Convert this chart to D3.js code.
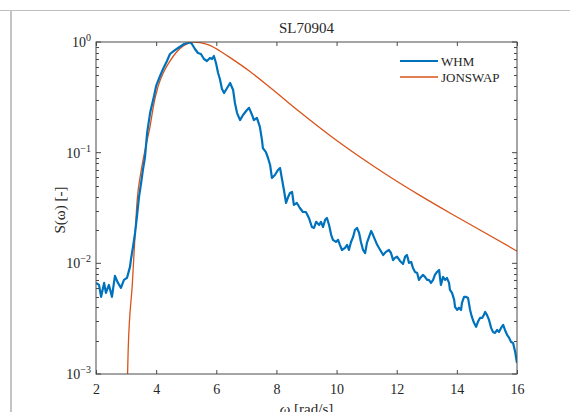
<!DOCTYPE html>
<html>
<head>
<meta charset="utf-8">
<script src="https://cdn.jsdelivr.net/npm/d3@7"></script>
<style>
  body { margin: 0; background: #fff; }
  text { font-family: "Liberation Serif", "DejaVu Serif", serif; fill: #262626; }
</style>
</head>
<body>
<div id="chart"></div>
<script>
// values
var whmOmega = [2.00, 2.10, 2.17, 2.27, 2.33, 2.43, 2.53, 2.63, 2.73, 2.83, 2.93, 3.03, 3.13, 3.16, 3.23, 3.30, 3.36, 3.43, 3.50, 3.56,
  3.63, 3.70, 3.80, 3.93, 4.00, 4.13, 4.23, 4.36, 4.46, 4.59, 4.73, 4.93, 5.06, 5.13, 5.19, 5.29, 5.39, 5.49, 5.59, 5.69,
  5.79, 5.86, 5.92, 5.99, 6.06, 6.12, 6.19, 6.26, 6.36, 6.46, 6.56, 6.62, 6.69, 6.79, 6.89, 7.02, 7.09, 7.19, 7.25, 7.35,
  7.45, 7.52, 7.55, 7.65, 7.72, 7.79, 7.85, 7.95, 8.05, 8.12, 8.19, 8.25, 8.32, 8.39, 8.45, 8.52, 8.58, 8.68, 8.78, 8.88,
  8.98, 9.08, 9.18, 9.25, 9.32, 9.42, 9.48, 9.55, 9.62, 9.68, 9.75, 9.82, 9.88, 9.98, 10.05, 10.11, 10.18, 10.28, 10.35, 10.41,
  10.48, 10.55, 10.61, 10.68, 10.75, 10.81, 10.88, 10.95, 11.01, 11.08, 11.15, 11.21, 11.28, 11.35, 11.45, 11.55, 11.64, 11.74, 11.81, 11.88,
  11.94, 12.01, 12.11, 12.21, 12.28, 12.34, 12.41, 12.48, 12.54, 12.61, 12.68, 12.74, 12.81, 12.87, 12.94, 13.01, 13.07, 13.14, 13.21, 13.27,
  13.34, 13.41, 13.44, 13.47, 13.54, 13.61, 13.67, 13.74, 13.77, 13.84, 13.91, 13.94, 14.01, 14.07, 14.14, 14.17, 14.24, 14.30, 14.37, 14.40,
  14.44, 14.50, 14.57, 14.64, 14.70, 14.77, 14.84, 14.90, 14.94, 15.00, 15.07, 15.14, 15.20, 15.27, 15.34, 15.40, 15.47, 15.54, 15.60, 15.67,
  15.74, 15.80, 15.87, 15.94, 15.97, 16.00];
var whmS = [0.00665, 0.00638, 0.00498, 0.00665, 0.00541, 0.00638, 0.00498, 0.00769, 0.00665, 0.00600, 0.00708, 0.00738, 0.00929, 0.01074, 0.01406, 0.01883, 0.02624, 0.0398, 0.0532, 0.0698,
  0.0914, 0.151, 0.229, 0.325, 0.401, 0.493, 0.570, 0.673, 0.779, 0.830, 0.883, 0.959, 0.979, 1.0, 0.959, 0.865, 0.796, 0.779, 0.702, 0.673,
  0.717, 0.702, 0.748, 0.646, 0.525, 0.463, 0.376, 0.346, 0.384, 0.426, 0.368, 0.281, 0.229, 0.197, 0.219, 0.243, 0.254, 0.219, 0.197, 0.206,
  0.171, 0.130, 0.110, 0.101, 0.0896, 0.0774, 0.0591, 0.0629, 0.0698, 0.0728, 0.0567, 0.0460, 0.0351, 0.0398, 0.0433, 0.0442, 0.0337, 0.0351, 0.0316, 0.0291,
  0.0291, 0.0257, 0.0213, 0.0209, 0.0237, 0.0222, 0.0237, 0.0213, 0.0247, 0.0257, 0.0222, 0.0181, 0.0163, 0.0156, 0.0163, 0.0147, 0.0132, 0.0138, 0.0147, 0.0132,
  0.0156, 0.0173, 0.0200, 0.0209, 0.0188, 0.0156, 0.0132, 0.0124, 0.0153, 0.0173, 0.0196, 0.0181, 0.0163, 0.0147, 0.0132, 0.0119, 0.0127, 0.0132, 0.0124, 0.0107,
  0.0112, 0.0115, 0.0105, 0.00988, 0.0115, 0.0119, 0.0101, 0.0103, 0.00909, 0.00836, 0.00818, 0.00708, 0.00754, 0.00786, 0.00754, 0.00708, 0.00708, 0.00665, 0.00708, 0.00786,
  0.00836, 0.00871, 0.00738, 0.00638, 0.00754, 0.00708, 0.00738, 0.00665, 0.00575, 0.00541, 0.00467, 0.00404, 0.00379, 0.00397, 0.00379, 0.00439, 0.00498, 0.00498, 0.00487, 0.00439,
  0.00379, 0.00328, 0.00290, 0.00267, 0.00296, 0.00321, 0.00321, 0.00342, 0.00364, 0.00342, 0.00308, 0.00261, 0.00240, 0.00235, 0.00250, 0.00240, 0.00261, 0.00278, 0.00250, 0.00226,
  0.00212, 0.00195, 0.00191, 0.00158, 0.00140, 0.00126];

var jonOmega = [3.05, 3.07, 3.21, 3.29, 3.37, 3.49, 3.66, 3.80, 3.91, 4.07, 4.24, 4.46, 4.68, 4.90, 5.24, 5.46, 5.79, 6.12,
  6.46, 7.12, 7.79, 8.78, 9.78, 10.78, 11.78, 12.77, 13.77, 14.77, 16.00];
var jonS = [0.001, 0.00165, 0.00665, 0.0163, 0.0374, 0.0656, 0.115, 0.174, 0.264, 0.401, 0.528, 0.673, 0.812, 0.920, 1.0, 0.986, 0.934, 0.830,
  0.722, 0.541, 0.388, 0.233, 0.143, 0.0914, 0.0603, 0.0411, 0.0285, 0.0200, 0.0129];

var xTicks = [2, 4, 6, 8, 10, 12, 14, 16];
var yMajor = [-3, -2, -1, 0];
var seriesNames = ['WHM', 'JONSWAP'];
var seriesColors = ['#0072BD', '#D95319'];

var width = 571, height = 412;
var pL = 96, pR = 517, pT = 42, pB = 374;

var svg = d3.select('#chart')
  .append('svg')
  .attr('width', width)
  .attr('height', height);

// figure frame lines round the plot window
svg.append('line').attr('x1', 0).attr('x2', 570).attr('y1', 10.5).attr('y2', 10.5)
  .attr('stroke', '#bdbdbd').attr('stroke-width', 1);
svg.append('line').attr('x1', 11).attr('x2', 11).attr('y1', 10).attr('y2', height)
  .attr('stroke', '#c4c4c4').attr('stroke-width', 2);

var x = d3.scaleLinear().domain([2, 16]).range([pL, pR]);
var y = d3.scaleLog().domain([1e-3, 1]).range([pB, pT]);

var plot = svg.append('g');

// clip so the curves stay inside the axes
svg.append('clipPath').attr('id', 'clip')
  .append('rect').attr('x', pL).attr('y', pT).attr('width', pR - pL).attr('height', pB - pT);

var line = d3.line()
  .x(function(d) { return x(d[0]); })
  .y(function(d) { return y(d[1]); });

var whm = d3.zip(whmOmega, whmS);
var jon = d3.zip(jonOmega, jonS);

plot.append('path')
  .datum(jon)
  .attr('clip-path', 'url(#clip)')
  .attr('fill', 'none')
  .attr('stroke', seriesColors[1])
  .attr('stroke-width', 1.3)
  .attr('d', line.curve(d3.curveMonotoneX));

plot.append('path')
  .datum(whm)
  .attr('clip-path', 'url(#clip)')
  .attr('fill', 'none')
  .attr('stroke', seriesColors[0])
  .attr('stroke-width', 2.2)
  .attr('stroke-linejoin', 'round')
  .attr('d', line.curve(d3.curveLinear));

// axes box
var axisColor = '#4a4a4a';
plot.append('rect')
  .attr('x', pL).attr('y', pT)
  .attr('width', pR - pL).attr('height', pB - pT)
  .attr('fill', 'none')
  .attr('stroke', axisColor)
  .attr('stroke-width', 1);

// x ticks, inward on bottom and top
var xAxisB = d3.axisBottom(x).tickValues(xTicks).tickSizeInner(-4).tickSizeOuter(0).tickPadding(10);
var gx = svg.append('g').attr('transform', 'translate(0,' + pB + ')').call(xAxisB);
gx.select('.domain').remove();
gx.selectAll('line').attr('stroke', axisColor);
gx.selectAll('text').attr('font-size', 14).attr('font-family', '"Liberation Serif", serif').attr('fill', '#262626');

var gxt = svg.append('g').attr('transform', 'translate(0,' + pT + ')')
  .call(d3.axisTop(x).tickValues(xTicks).tickSizeInner(-4).tickSizeOuter(0).tickFormat(''));
gxt.select('.domain').remove();
gxt.selectAll('line').attr('stroke', axisColor);

// y ticks, log minor ticks
var minor = [];
yMajor.slice(0, 3).forEach(function(p) {
  for (var k = 2; k <= 9; k++) minor.push(k * Math.pow(10, p));
});
var majorVals = yMajor.map(function(p) { return Math.pow(10, p); });

[pL, pR].forEach(function(xp, i) {
  var dir = i === 0 ? 1 : -1;
  svg.selectAll(null).data(majorVals).enter().append('line')
    .attr('x1', xp).attr('x2', xp + dir * 5)
    .attr('y1', function(d) { return y(d); }).attr('y2', function(d) { return y(d); })
    .attr('stroke', axisColor);
  svg.selectAll(null).data(minor).enter().append('line')
    .attr('x1', xp).attr('x2', xp + dir * 3)
    .attr('y1', function(d) { return Math.round(y(d)) + 0.5; }).attr('y2', function(d) { return Math.round(y(d)) + 0.5; })
    .attr('stroke', axisColor);
});

var ylab = svg.selectAll(null).data(yMajor).enter().append('text')
  .attr('x', pL - 5)
  .attr('y', function(d) { return y(Math.pow(10, d)) + 5; })
  .attr('text-anchor', 'end')
  .attr('font-size', 14);
ylab.append('tspan').text('10');
ylab.append('tspan').attr('dy', -6).attr('font-size', 10).text(function(d) { return d === 0 ? '0' : '\u2212' + (-d); });

// title and axis labels
svg.append('text').attr('x', (pL + pR) / 2).attr('y', 33)
  .attr('text-anchor', 'middle').attr('font-size', 15).text('SL70904');

svg.append('text')
  .attr('transform', 'translate(65,' + ((pT + pB) / 2 + 2) + ') rotate(-90)')
  .attr('text-anchor', 'middle').attr('font-size', 15)
  .text('S(\u03c9) [-]');

var xl = svg.append('text').attr('x', (pL + pR) / 2).attr('y', 414)
  .attr('text-anchor', 'middle').attr('font-size', 15);
xl.append('tspan').attr('font-style', 'italic').text('\u03c9');
xl.append('tspan').text(' [rad/s]');

// legend, no box
var legend = svg.append('g');
seriesNames.forEach(function(name, i) {
  var ly = 61 + i * 16;
  legend.append('line')
    .attr('x1', 400).attr('x2', 438).attr('y1', ly).attr('y2', ly)
    .attr('stroke', seriesColors[i]).attr('stroke-width', i === 0 ? 2.2 : 1.3);
  legend.append('text').attr('x', 441).attr('y', ly + 4.5)
    .attr('font-size', 13).text(name);
});
</script>
</body>
</html>
